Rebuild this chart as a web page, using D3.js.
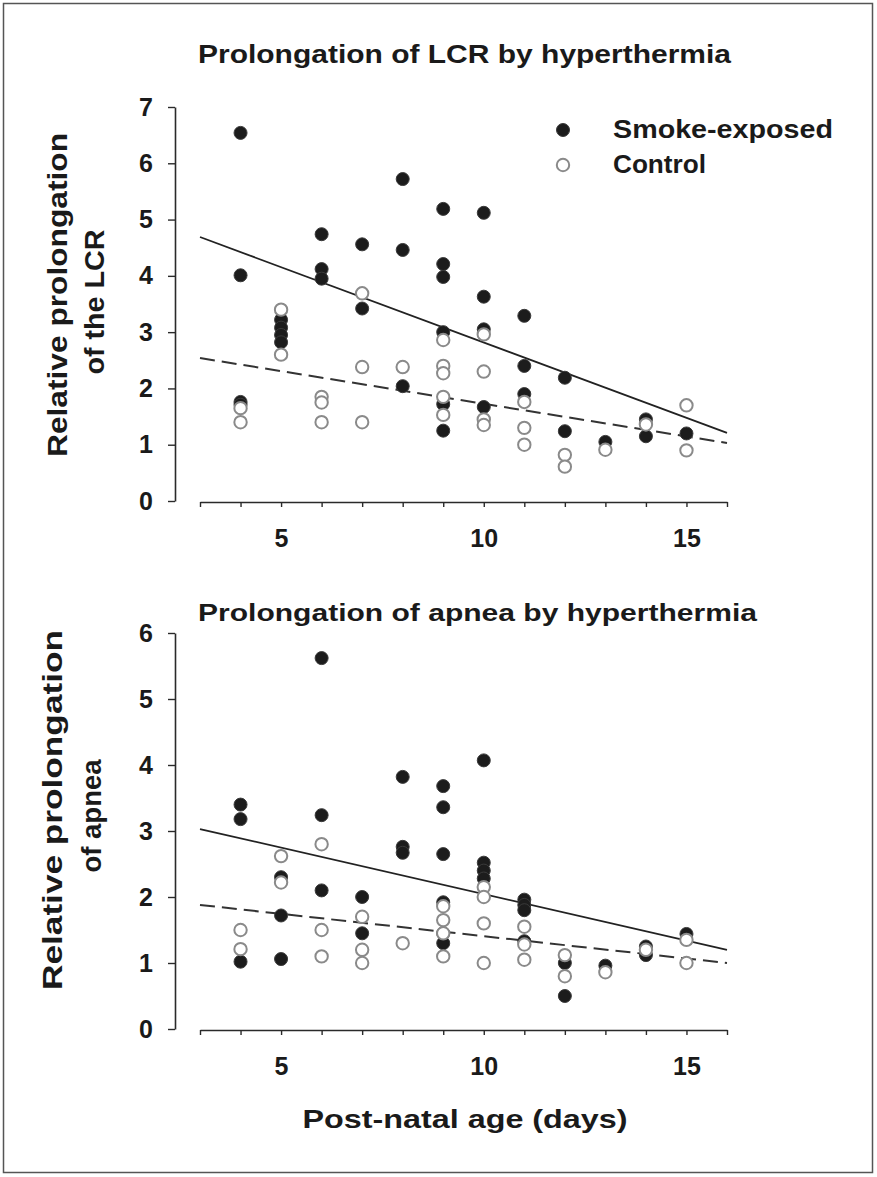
<!DOCTYPE html>
<html><head><meta charset="utf-8">
<script src="https://cdn.jsdelivr.net/npm/d3@7"></script>
<style>
body{margin:0;background:#fff}
text{font-family:"Liberation Sans",Arial,sans-serif;font-weight:bold;fill:#1a1a1a}
</style>
</head><body>
<svg id="c" width="877" height="1177"></svg>
<script>
// ---------- data ----------
const dayTicks = [3,4,5,6,7,8,9,10,11,12,13,14,15,16];
const dayLabels = [5,10,15];
const lcrTicks = [0,1,2,3,4,5,6,7];
const apneaTicks = [0,1,2,3,4,5,6];
const seriesNames = ["Smoke-exposed","Control"];

const lcrSmoke = [[4,6.54],[4,4.01],[4,1.76],[4,1.71],
  [5,3.22],[5,3.08],[5,2.95],[5,2.82],
  [6,4.74],[6,4.12],[6,3.95],
  [7,4.56],[7,3.42],
  [8,5.72],[8,4.46],[8,2.04],
  [9,5.19],[9,4.21],[9,3.98],[9,3.00],[9,1.72],[9,1.25],
  [10,5.12],[10,3.63],[10,3.05],[10,1.67],
  [11,3.29],[11,2.40],[11,1.90],
  [12,2.19],[12,1.24],
  [13,1.05],
  [14,1.45],[14,1.15],
  [15,1.20]];
const lcrControl = [[4,1.65],[4,1.40],
  [5,3.40],[5,2.60],
  [6,1.85],[6,1.75],[6,1.40],
  [7,3.69],[7,2.38],[7,1.40],
  [8,2.38],
  [9,2.86],[9,2.40],[9,2.27],[9,1.85],[9,1.53],
  [10,2.96],[10,2.30],[10,1.45],[10,1.35],
  [11,1.76],[11,1.30],[11,1.00],
  [12,0.82],[12,0.61],
  [13,0.91],
  [14,1.36],
  [15,1.70],[15,0.90]];
const lcrSmokeFit = [[3,4.69],[16,1.21]];
const lcrControlFit = [[3,2.54],[16,1.03]];

const apneaSmoke = [[4,3.40],[4,3.18],[4,1.02],
  [5,2.30],[5,1.72],[5,1.06],
  [6,5.62],[6,3.24],[6,2.10],
  [7,2.00],[7,1.45],
  [8,3.82],[8,2.76],[8,2.67],
  [9,3.68],[9,3.36],[9,2.65],[9,1.92],[9,1.45],[9,1.30],
  [10,4.07],[10,2.52],[10,2.40],[10,2.28],
  [11,1.96],[11,1.88],[11,1.80],[11,1.33],
  [12,1.00],[12,0.50],
  [13,0.96],
  [14,1.25],[14,1.12],
  [15,1.44]];
const apneaControl = [[4,1.50],[4,1.21],
  [5,2.62],[5,2.22],
  [6,2.80],[6,1.50],[6,1.10],
  [7,1.70],[7,1.20],[7,1.00],
  [8,1.30],
  [9,1.86],[9,1.65],[9,1.45],[9,1.10],
  [10,2.15],[10,2.00],[10,1.60],[10,1.00],
  [11,1.55],[11,1.28],[11,1.05],
  [12,1.12],[12,0.80],
  [13,0.86],
  [14,1.20],
  [15,1.35],[15,1.00]];
const apneaSmokeFit = [[3,3.03],[16,1.20]];
const apneaControlFit = [[3,1.88],[16,1.00]];

// ---------- drawing ----------
const svg = d3.select("#c");
svg.append("rect").attr("x",0).attr("y",0).attr("width",877).attr("height",1177).attr("fill","#fff");
svg.append("rect").attr("x",3.5).attr("y",3.5).attr("width",869).attr("height",1169)
  .attr("fill","none").attr("stroke","#555").attr("stroke-width",1.5);

const xScale = d3.scaleLinear().domain([3,16]).range([200,727]);

function txt(g, s, x0, y0, len, size, anchor, rot){
  const t = g.append("text").attr("x",x0).attr("y",y0).attr("font-size",size)
    .attr("text-anchor",anchor||"start").text(s);
  if(len) t.attr("textLength",len).attr("lengthAdjust","spacingAndGlyphs");
  if(rot) t.attr("transform",`rotate(-90,${x0},${y0})`);
  return t;
}

function panel(cfg){
  const g = svg.append("g");
  const y = d3.scaleLinear().domain(cfg.ydom).range(cfg.yrange);
  const ya = g.append("g").attr("transform",`translate(175,0)`)
    .call(d3.axisLeft(y).tickValues(cfg.yticks).tickSize(7).tickSizeOuter(0).tickPadding(15).tickFormat(d3.format("d")));
  const xa = g.append("g").attr("transform",`translate(0,${cfg.xaxisY})`)
    .call(d3.axisBottom(xScale).tickValues(dayTicks).tickSize(5).tickSizeOuter(0).tickPadding(22)
      .tickFormat(d => dayLabels.includes(d) ? d : ""));
  [ya,xa].forEach(a=>{
    a.select(".domain").attr("stroke","#2a2a2a").attr("stroke-width",1.6);
    a.selectAll(".tick line").attr("stroke","#2a2a2a").attr("stroke-width",1.4);
    a.selectAll(".tick text").attr("font-size",25).attr("font-family",'"Liberation Sans",Arial,sans-serif')
      .attr("font-weight","bold").attr("fill","#1a1a1a");
  });
  const line = d3.line().x(d=>xScale(d[0])).y(d=>y(d[1]));
  g.append("path").datum(cfg.smokeFit).attr("d",line).attr("fill","none").attr("stroke","#222").attr("stroke-width",1.8);
  g.append("path").datum(cfg.controlFit).attr("d",line).attr("fill","none").attr("stroke","#333").attr("stroke-width",2)
    .attr("stroke-dasharray","15,7");
  g.append("g").selectAll("circle").data(cfg.smoke).join("circle")
    .attr("cx",d=>xScale(d[0])).attr("cy",d=>y(d[1])).attr("r",6.5)
    .attr("fill","#1c1c1c").attr("stroke","#3a3a3a").attr("stroke-width",1);
  g.append("g").selectAll("circle").data(cfg.control).join("circle")
    .attr("cx",d=>xScale(d[0])).attr("cy",d=>y(d[1])).attr("r",6.2)
    .attr("fill","#fff").attr("stroke","#8a8a8a").attr("stroke-width",2);
  txt(g, cfg.title, 198, cfg.titleY, cfg.titleLen, cfg.titleSize, "start");
  txt(g, cfg.yl1, cfg.yl1x, cfg.ylcy1, cfg.yl1len, cfg.ylSize, "middle", true);
  txt(g, cfg.yl2, cfg.yl2x, cfg.ylcy2, cfg.yl2len, cfg.ylSize, "middle", true);
  return {g,y};
}

panel({
  ydom:[0,7], yrange:[501,107], yticks:lcrTicks, xaxisY:502,
  smoke:lcrSmoke, control:lcrControl, smokeFit:lcrSmokeFit, controlFit:lcrControlFit,
  title:"Prolongation of LCR by hyperthermia", titleY:63, titleLen:533, titleSize:26,
  yl1:"Relative prolongation", yl1x:67, ylcy1:295, yl1len:324,
  yl2:"of the LCR", yl2x:104, ylcy2:302, yl2len:145, ylSize:27
});
panel({
  ydom:[0,6], yrange:[1029,633], yticks:apneaTicks, xaxisY:1030,
  smoke:apneaSmoke, control:apneaControl, smokeFit:apneaSmokeFit, controlFit:apneaControlFit,
  title:"Prolongation of apnea by hyperthermia", titleY:621, titleLen:559, titleSize:24,
  yl1:"Relative prolongation", yl1x:62, ylcy1:810, yl1len:360,
  yl2:"of  apnea", yl2x:101, ylcy2:816, yl2len:113, ylSize:28
});

const lg = svg.append("g");
lg.append("circle").attr("cx",563).attr("cy",130).attr("r",6.5).attr("fill","#1c1c1c").attr("stroke","#3a3a3a");
lg.append("circle").attr("cx",563).attr("cy",165).attr("r",6.2).attr("fill","#fff").attr("stroke","#8a8a8a").attr("stroke-width",2);
txt(lg, seriesNames[0], 613, 138, 220, 25, "start");
txt(lg, seriesNames[1], 613, 173, 93, 25, "start");

txt(svg, "Post-natal age (days)", 465, 1128, 325, 26, "middle");
</script>
</body></html>
